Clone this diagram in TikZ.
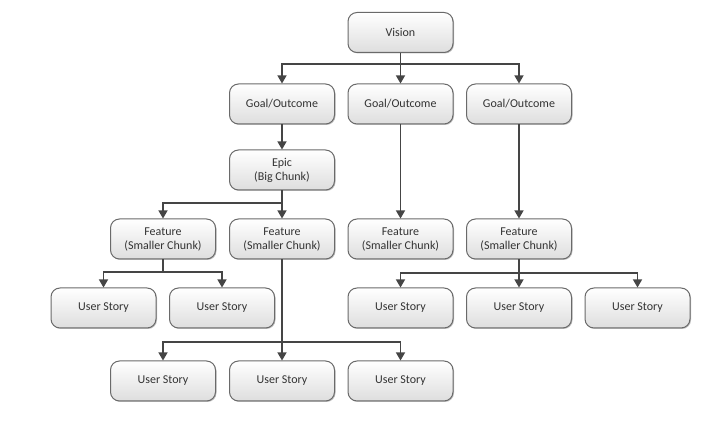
\documentclass[tikz,border=0pt]{standalone}
\usepackage{fontspec}
\setmainfont{Carlito}
\usetikzlibrary{arrows.meta,shadows}
\definecolor{boxline}{HTML}{6A6A6A}
\definecolor{linecol}{HTML}{454545}
\definecolor{txt}{HTML}{333333}
\tikzset{
  box/.style={draw=boxline, line width=1pt, rounded corners=9pt,
    top color=white, bottom color=black!13,
    minimum width=105pt, minimum height=40pt, align=center,
    font=\fontsize{12}{14}\selectfont, text=txt, inner sep=1pt,
    drop shadow={shadow xshift=1pt, shadow yshift=-1pt, opacity=0.25, fill=black}},
  arr/.style={draw=linecol, line width=1.25pt, -{Triangle[width=9pt,length=8pt]}},
  ln/.style={draw=linecol, line width=1.25pt}
}
\begin{document}
\begin{tikzpicture}[x=1pt,y=-1pt]
\useasboundingbox (0,0) rectangle (726,435);
% nodes
\node[box] (vision) at (400.5,32.5) {Vision};
\node[box] (g1) at (282,104) {Goal/Outcome};
\node[box] (g2) at (400.5,104) {Goal/Outcome};
\node[box] (g3) at (519,104) {Goal/Outcome};
\node[box] (epic) at (282,170) {Epic\\(Big Chunk)};
\node[box] (f1) at (163,239) {Feature\\(Smaller Chunk)};
\node[box] (f2) at (282,239) {Feature\\(Smaller Chunk)};
\node[box] (f3) at (400.5,239) {Feature\\(Smaller Chunk)};
\node[box] (f4) at (519,239) {Feature\\(Smaller Chunk)};
\node[box] (u1) at (103.5,308) {User Story};
\node[box] (u2) at (222,308) {User Story};
\node[box] (u6) at (400.5,308) {User Story};
\node[box] (u7) at (519,308) {User Story};
\node[box] (u8) at (637.5,308) {User Story};
\node[box] (u3) at (163,381) {User Story};
\node[box] (u4) at (282,381) {User Story};
\node[box] (u5) at (400.5,381) {User Story};
% junction coordinates
\coordinate (jv) at (400.5,64);
\coordinate (je) at (282,203);
\coordinate (jf1) at (163,272);
\coordinate (jf2) at (282,342);
\coordinate (jf4) at (519,273);
% connectors
\draw[ln] (vision.south) -- (jv);
\draw[arr] (jv) -| (g1.north);
\draw[arr] (jv) -- (g2.north);
\draw[arr] (jv) -| (g3.north);
\draw[arr] (g1.south) -- (epic.north);
\draw[arr] (g2.south) -- (f3.north);
\draw[arr] (g3.south) -- (f4.north);
\draw[ln] (epic.south) -- (je);
\draw[arr] (je) -| (f1.north);
\draw[arr] (je) -- (f2.north);
\draw[ln] (f1.south) -- (jf1);
\draw[arr] (jf1) -| (u1.north);
\draw[arr] (jf1) -| (u2.north);
\draw[ln] (f2.south) -- (jf2);
\draw[arr] (jf2) -| (u3.north);
\draw[arr] (jf2) -- (u4.north);
\draw[arr] (jf2) -| (u5.north);
\draw[ln] (f4.south) -- (jf4);
\draw[arr] (jf4) -| (u6.north);
\draw[arr] (jf4) -- (u7.north);
\draw[arr] (jf4) -| (u8.north);
\end{tikzpicture}
\end{document}
